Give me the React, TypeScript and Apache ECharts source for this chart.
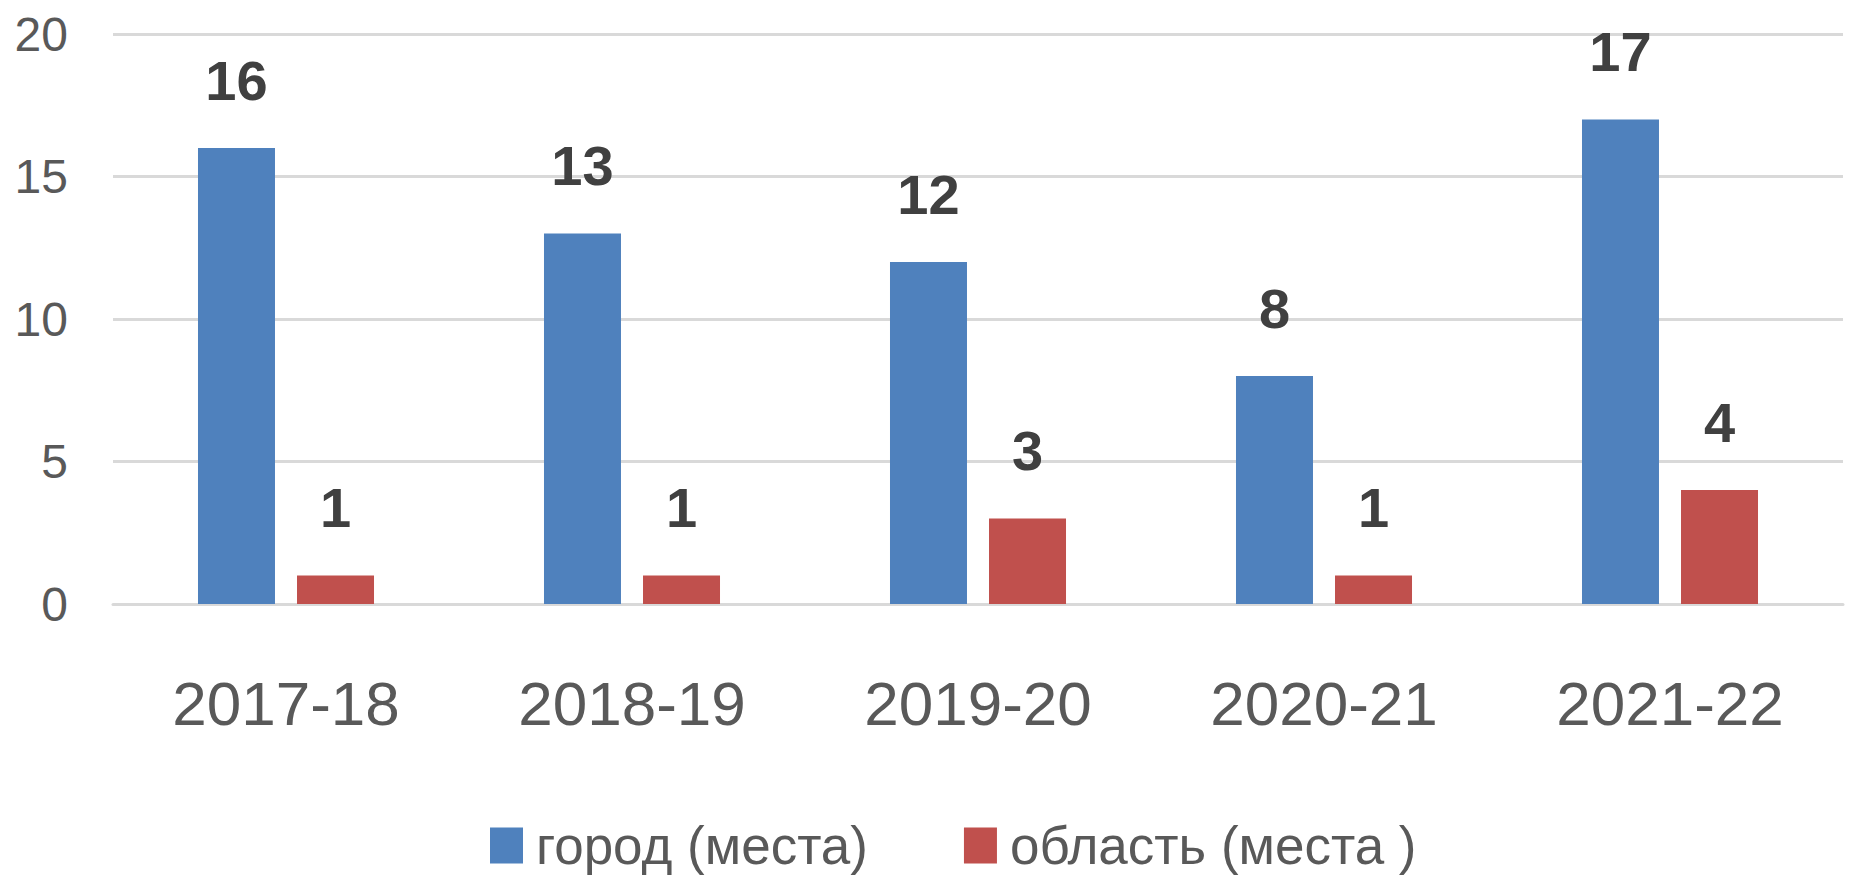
import React, { useEffect, useRef } from "react";
import * as echarts from "echarts";

const categories = ["2017-18", "2018-19", "2019-20", "2020-21", "2021-22"];
const cityValues = [16, 13, 12, 8, 17];
const regionValues = [1, 1, 3, 1, 4];
const seriesNames = ["город (места)", "область (места )"];
const yTicks = { min: 0, max: 20, interval: 5 };

const REG = "'Liberation Sans', sans-serif";

export default function App() {
  const ref = useRef<HTMLDivElement>(null);
  useEffect(() => {
    document.body.style.margin = "0";
    const chart = echarts.init(ref.current!, null, { renderer: "svg" });
    const label = {
      show: true,
      position: "top",
      distance: 40,
      fontFamily: REG,
      fontWeight: "bold",
      fontSize: 56,
      color: "#404040",
    };
    chart.setOption({
      animation: false,
      backgroundColor: "#ffffff",
      grid: { left: 113, right: 6, top: 34, bottom: 273, containLabel: false },
      legend: {
        left: 485,
        top: 814,
        itemWidth: 33,
        itemHeight: 36,
        itemGap: 96,
        icon: "rect",
        textStyle: {
          fontFamily: REG,
          fontSize: 53,
          lineHeight: 53,
          color: "#595959",
          padding: [0, 0, 0, 8],
        },
        data: seriesNames,
      },
      xAxis: {
        type: "category",
        data: categories,
        axisLine: { show: true, lineStyle: { color: "#D9D9D9", width: 3 } },
        axisTick: { show: false },
        axisLabel: {
          fontFamily: REG,
          fontSize: 62,
          color: "#595959",
          margin: 68,
        },
      },
      yAxis: {
        type: "value",
        min: yTicks.min,
        max: yTicks.max,
        interval: yTicks.interval,
        axisLine: { show: false },
        axisTick: { show: false },
        splitLine: { lineStyle: { color: "#D9D9D9", width: 3 } },
        axisLabel: {
          fontFamily: REG,
          fontSize: 48,
          color: "#595959",
          margin: 45,
        },
      },
      series: [
        {
          name: seriesNames[0],
          type: "bar",
          data: cityValues,
          barWidth: 77,
          barGap: "28.6%",
          itemStyle: { color: "#4F81BD" },
          label,
        },
        {
          name: seriesNames[1],
          type: "bar",
          data: regionValues,
          barWidth: 77,
          itemStyle: { color: "#C0504D" },
          label,
        },
      ],
    });
    return () => chart.dispose();
  }, []);
  return (
    <div
      ref={ref}
      style={{ position: "absolute", left: 0, top: 0, width: 1849, height: 877 }}
    />
  );
}
